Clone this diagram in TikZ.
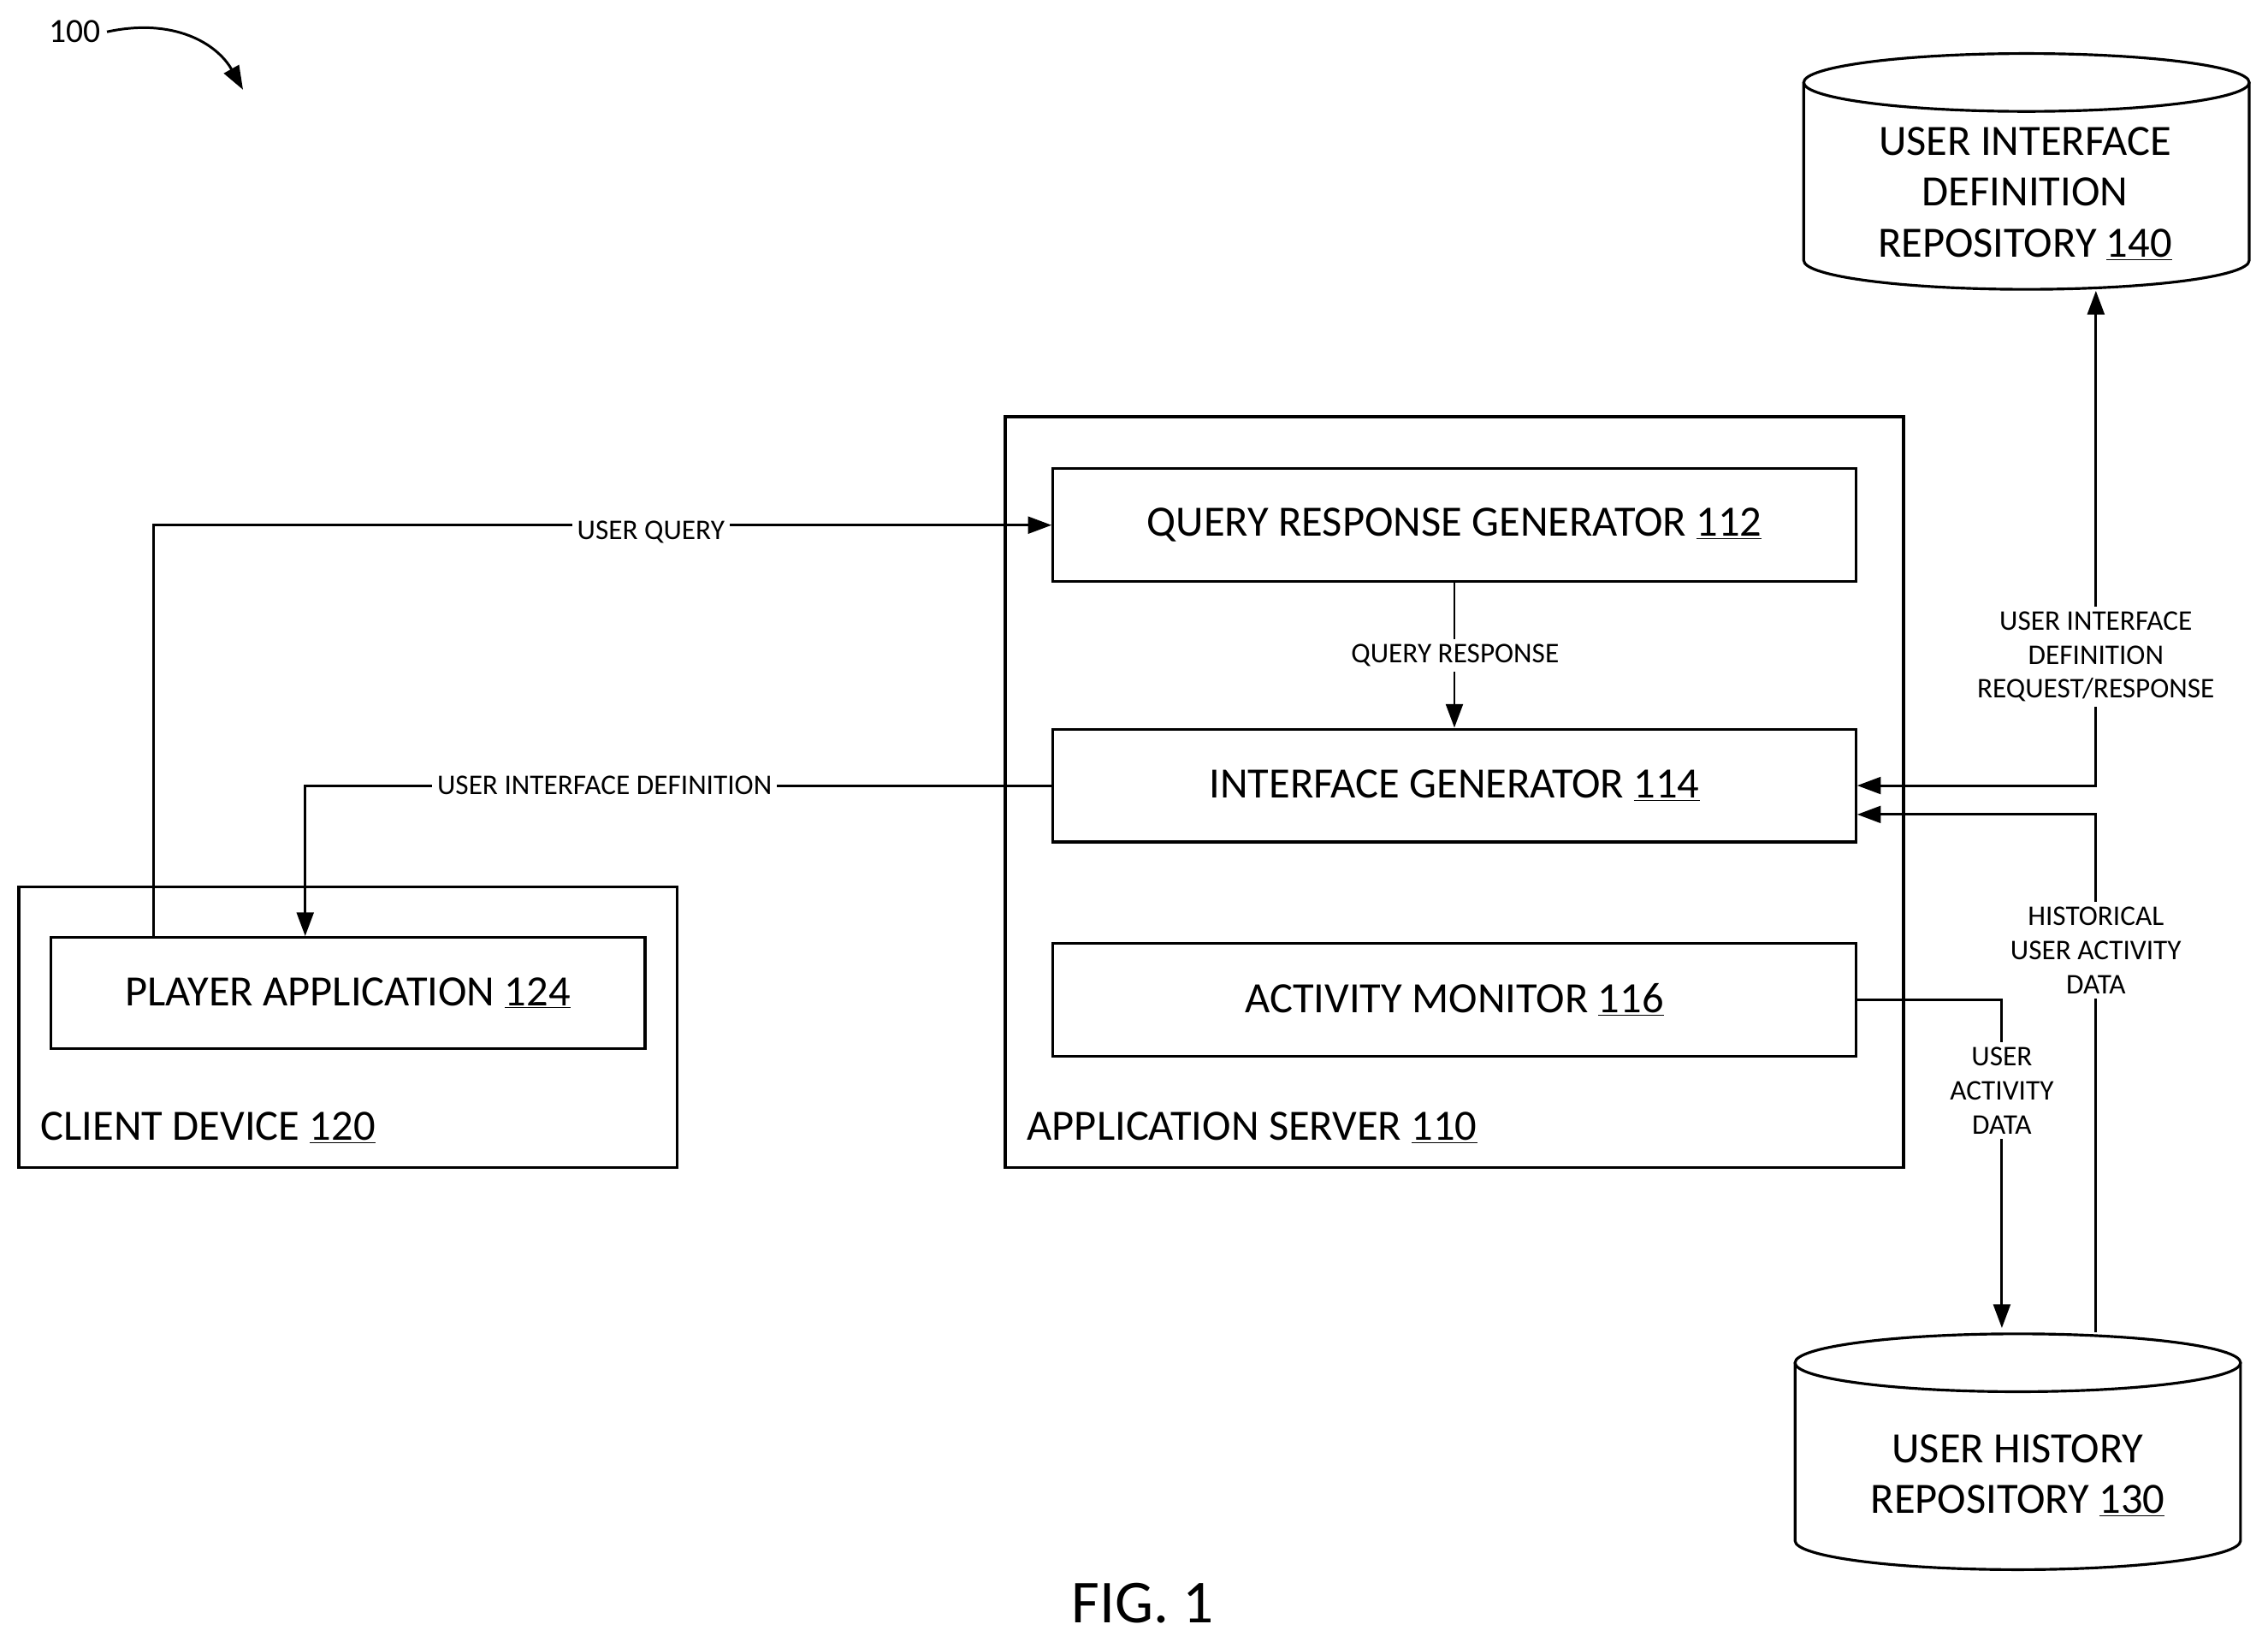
\documentclass[tikz,border=0pt]{standalone}
\usepackage{fontspec}
\setmainfont{Carlito}
\usetikzlibrary{arrows.meta}
\begin{document}
\begin{tikzpicture}[x=0.03cm,y=-0.03cm,
  box/.style={draw,line width=1.6pt,inner sep=0},
  main/.style={font=\fontsize{25.5}{30}\selectfont},
  lbl/.style={font=\fontsize{16.8}{20}\selectfont,fill=white,inner sep=3pt,align=center},
  con/.style={line width=1.5pt},
  arr/.style={con,-{Triangle[length=14pt,width=10pt]}},
  cyl/.style={line width=1.6pt,fill=white}]
\useasboundingbox (0,0) rectangle (1568,1135);
% boxes
\draw[box] (13,613) rectangle (468,807);
\node[main,anchor=base west] at (24,788) {CLIENT DEVICE \underline{120}};
\node[box,minimum width=411*0.03cm,minimum height=77*0.03cm] (pa) at (240.5,686.5) {};
\node[main] at (pa) {PLAYER APPLICATION \underline{124}};
\draw[box] (695,288) rectangle (1316,807);
\node[main,anchor=base west] at (706,788) {APPLICATION SERVER \underline{110}};
\node[box,minimum width=555*0.03cm,minimum height=78*0.03cm] (qrg) at (1005.5,363) {};
\node[main] at (qrg) {QUERY RESPONSE GENERATOR \underline{112}};
\node[box,minimum width=555*0.03cm,minimum height=78*0.03cm] (ig) at (1005.5,543) {};
\node[main] at (ig) {INTERFACE GENERATOR \underline{114}};
\node[box,minimum width=555*0.03cm,minimum height=78*0.03cm] (am) at (1005.5,691) {};
\node[main] at (am) {ACTIVITY MONITOR \underline{116}};
% cylinders
\draw[cyl] (1247,57) -- (1247,180) arc[start angle=180,end angle=0,x radius=154,y radius=20] -- (1555,57);
\draw[cyl] (1401,57) ellipse[x radius=154,y radius=20];
\coordinate (uib) at (1449,201);
\node[main,align=center] (uir) at (1400,134) {USER INTERFACE\\DEFINITION\\REPOSITORY \underline{140}};
\draw[cyl] (1241,942) -- (1241,1065) arc[start angle=180,end angle=0,x radius=154,y radius=20] -- (1549,942);
\draw[cyl] (1395,942) ellipse[x radius=154,y radius=20];
\coordinate (uhtA) at (1384,918);
\coordinate (uhtB) at (1449,921);
\node[main,align=center] (uhr) at (1395,1020) {USER HISTORY\\REPOSITORY \underline{130}};
% connectors
\draw[arr] (pa.north -| 106,0) |- (qrg.west);
\node[lbl] (l1) at (450,368) {USER QUERY};
\draw[arr] (qrg.south) -- (ig.north);
\node[lbl] (l2) at (1006,453) {QUERY RESPONSE};
\draw[arr] (ig.west) -| (pa.north -| 211,0);
\node[lbl] (l3) at (418,543) {USER INTERFACE DEFINITION};
\draw[arr,{Triangle[length=14pt,width=10pt]}-{Triangle[length=14pt,width=10pt]}] (ig.east) -| (uib);
\node[lbl] (l4) at (1449,454) {USER INTERFACE\\DEFINITION\\REQUEST/RESPONSE};
\draw[arr] (uhtB) |- ([yshift=-0.6cm]ig.east);
\node[lbl] (l5) at (1449,657) {HISTORICAL\\USER ACTIVITY\\DATA};
\draw[arr] (am.east) -| (uhtA);
\node[lbl] (l6) at (1384,754) {USER\\ACTIVITY\\DATA};
% figure label
\node[font=\fontsize{20}{24}\selectfont] (hundred) at (52,22) {100};
\coordinate (hend) at (168,62);
\draw[arr] (hundred.east) .. controls (120,12) and (150,30) .. (hend);
\node[font=\fontsize{36}{40}\selectfont] (fig) at (790,1108) {FIG. 1};
\end{tikzpicture}
\end{document}
